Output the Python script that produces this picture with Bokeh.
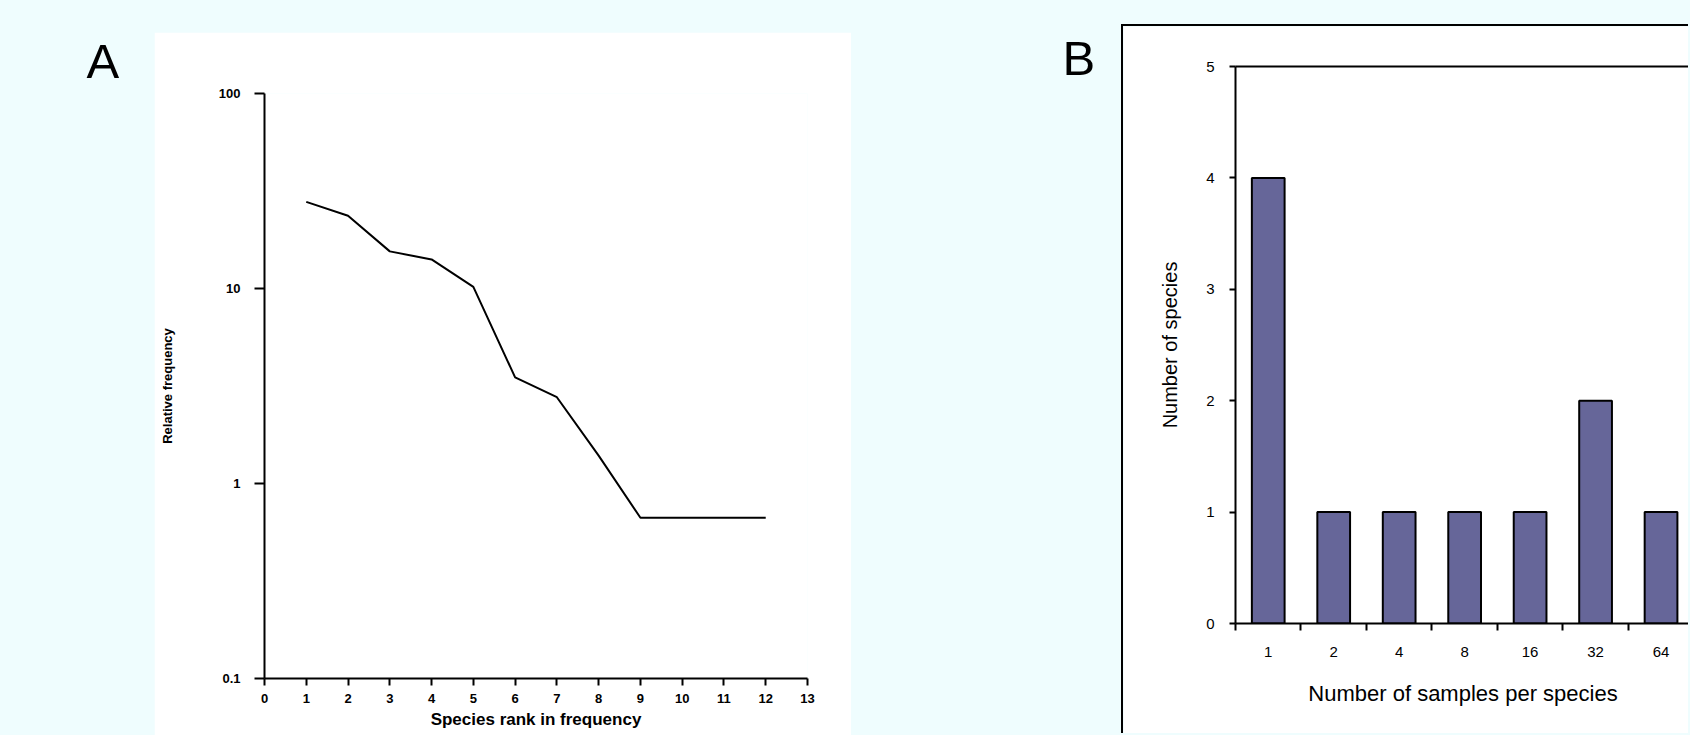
from bokeh.plotting import figure
from bokeh.models import Range1d, LinearAxis, FixedTicker, Label, Spacer, GlobalInlineStyleSheet
from bokeh.layouts import row, column
from bokeh.embed import file_html
from bokeh.resources import INLINE

# ---------------- data ----------------
# Panel A: relative frequency (%) by species rank
rank = [1, 2, 3, 4, 5, 6, 7, 8, 9, 10, 11, 12]
rel_freq = [27.8, 23.6, 15.5, 14.1, 10.2, 3.5, 2.77, 1.39, 0.667, 0.667, 0.667, 0.667]
rank_ticks = [0, 1, 2, 3, 4, 5, 6, 7, 8, 9, 10, 11, 12, 13]
freq_ticks = [0.1, 1, 10, 100]
freq_tick_labels = ["0.1", "1", "10", "100"]

# Panel B: number of species by number of samples per species
samples_per_species = ["1", "2", "4", "8", "16", "32", "64"]
number_of_species = [4, 1, 1, 1, 1, 2, 1]
count_ticks = [0, 1, 2, 3, 4, 5]

BG = "#effdfe"
FONT = "Liberation Sans"
BAR = "#666699"


def letter_panel(w, h, letter, lx, ly):
    f = figure(width=w, height=h, x_range=Range1d(0, w), y_range=Range1d(h, 0),
               toolbar_location=None, output_backend="svg", min_border=0,
               title_location=None,
               x_axis_location=None, y_axis_location=None)
    f.grid.visible = False
    f.outline_line_color = None
    f.background_fill_color = BG
    f.border_fill_color = BG
    f.add_layout(Label(x=lx, y=ly, text=letter, text_font=FONT, text_font_size="49px",
                       text_color="black", text_baseline="alphabetic", text_align="left"))
    return f


# ---------------- panel A ----------------
pa = figure(width=697, height=703, y_axis_type="log",
            x_range=Range1d(0, 13), y_range=Range1d(0.1, 100),
            toolbar_location=None, output_backend="svg",
            min_border_left=110, min_border_right=44, min_border_top=61, min_border_bottom=57)
pa.outline_line_color = None
pa.grid.visible = False
pa.background_fill_color = "white"
pa.border_fill_color = "white"
pa.line(rank, rel_freq, line_color="black", line_width=2)

xa = pa.xaxis[0]
xa.ticker = FixedTicker(ticks=rank_ticks)
xa.axis_label = "Species rank in frequency"
xa.major_tick_out = 7
xa.major_label_standoff = 8
xa.axis_label_standoff = 4
xa.axis_label_text_font_size = "17px"

ya = pa.yaxis[0]
ya.ticker = FixedTicker(ticks=freq_ticks)
ya.major_label_overrides = dict(zip(freq_ticks, freq_tick_labels))
ya.axis_label = "Relative frequency"
ya.major_tick_out = 10
ya.major_label_standoff = 14
ya.axis_label_standoff = 41
ya.axis_label_text_font_size = "13px"

for ax in (xa, ya):
    ax.axis_line_width = 2
    ax.axis_line_color = "black"
    ax.major_tick_line_width = 2
    ax.major_tick_line_color = "black"
    ax.major_tick_in = 0
    ax.minor_tick_line_color = None
    ax.major_label_text_font = FONT
    ax.major_label_text_font_style = "bold"
    ax.major_label_text_font_size = "13px"
    ax.major_label_text_color = "black"
    ax.axis_label_text_font = FONT
    ax.axis_label_text_font_style = "bold"
    ax.axis_label_text_color = "black"

# ---------------- panel B ----------------
n = len(samples_per_species)
centers = [i + 0.5 for i in range(n)]
bounds = list(range(n + 1))

pb = figure(width=567, height=709, x_range=Range1d(0, 6.95), y_range=Range1d(0, 5),
            toolbar_location=None, output_backend="svg",
            min_border_left=112, min_border_right=0, min_border_top=40, min_border_bottom=112,
            styles={"border-left": "2px solid black", "border-top": "2px solid black"})
pb.outline_line_color = None
pb.grid.visible = False
pb.background_fill_color = "white"
pb.border_fill_color = "white"
pb.vbar(x=centers, top=number_of_species, width=0.5, bottom=0,
        fill_color=BAR, line_color="black", line_width=2)

xb = pb.xaxis[0]
xb.ticker = FixedTicker(ticks=centers, minor_ticks=bounds)
xb.major_label_overrides = dict(zip(centers, samples_per_species))
xb.major_tick_out = 0
xb.major_tick_in = 0
xb.minor_tick_out = 7
xb.minor_tick_in = 0
xb.minor_tick_line_width = 2
xb.minor_tick_line_color = "black"
xb.major_label_standoff = 16
xb.axis_label = "Number of samples per species"
xb.axis_label_standoff = 21
xb.axis_label_text_font_size = "22px"

yb = pb.yaxis[0]
yb.ticker = FixedTicker(ticks=count_ticks)
yb.major_tick_out = 6
yb.major_tick_in = 0
yb.major_tick_line_width = 2
yb.major_tick_line_color = "black"
yb.minor_tick_line_color = None
yb.major_label_standoff = 15
yb.axis_label = "Number of species"
yb.axis_label_standoff = 22
yb.axis_label_text_font_size = "20px"

top_axis = LinearAxis(ticker=FixedTicker(ticks=[]), axis_line_width=2, axis_line_color="black",
                      major_tick_out=0, major_tick_in=0, minor_tick_out=0, minor_tick_in=0,
                      major_label_text_font_size="0px")
pb.add_layout(top_axis, "above")

for ax in (xb, yb):
    ax.axis_line_width = 2
    ax.axis_line_color = "black"
    ax.major_label_text_font = FONT
    ax.major_label_text_font_size = "15px"
    ax.major_label_text_color = "black"
    ax.axis_label_text_font = FONT
    ax.axis_label_text_font_style = "normal"
    ax.axis_label_text_color = "black"

# ---------------- layout ----------------
left_a = letter_panel(154, 735, "A", 86, 60)
gap_b = letter_panel(270, 735, "B", 211, 57)

col_a = column(Spacer(width=697, height=32), pa, spacing=0)
col_b = column(Spacer(width=569, height=24), pb, spacing=0)
root = row(left_a, col_a, gap_b, col_b, spacing=0,
           styles={"background-color": BG},
           stylesheets=[GlobalInlineStyleSheet(
               css="html, body { margin: 0; padding: 0; overflow: hidden; background-color: %s; }" % BG)])

open("out.html", "w").write(file_html(root, INLINE))
